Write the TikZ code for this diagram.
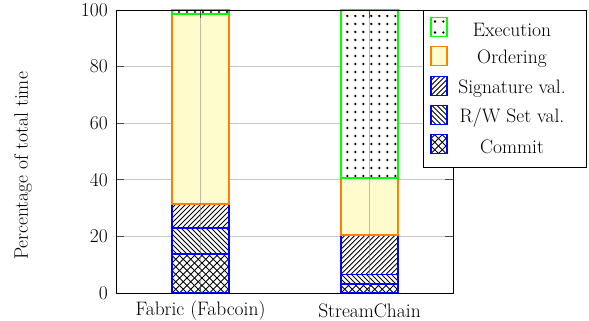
\documentclass[tikz,border=0pt]{standalone}
\definecolor{ordfill}{RGB}{254,251,204}
\tikzset{
  lbl/.style={font=\fontsize{19.5}{22}\selectfont, inner sep=0pt},
  grid/.style={gray!45, line width=0.7pt},
  tick/.style={black!70, line width=0.7pt},
  vgrid/.style={gray, opacity=0.5, line width=0.9pt},
  hl/.style={black, line width=0.8pt},
  exeb/.style={draw=green, line width=1.15pt},
  ordbb/.style={draw=orange, line width=1.15pt},
  blueb/.style={draw=blue, line width=1.15pt},
}
\newcommand{\patNE}[5]{\begin{scope}\clip (#1,#2) rectangle (#3,#4);
  \foreach \k in {-45,...,18}{\draw[hl] ({#1+\k*#5},#2) -- ++(300,300);}\end{scope}}
\newcommand{\patNW}[5]{\begin{scope}\clip (#1,#2) rectangle (#3,#4);
  \foreach \k in {-2,...,60}{\draw[hl] ({#1+\k*#5},#2) -- ++(-300,300);}\end{scope}}
\newcommand{\patDots}[4]{\begin{scope}\clip (#1,#2) rectangle (#3,#4);
  \foreach \i in {0,...,8}{\foreach \j in {0,...,25}{\fill ({#1+5+\i*8},{305-\j*8}) circle (1.3pt);}}\end{scope}}
\newcommand{\edgebox}[5]{\draw[#1] (#2,#3) -- (#4,#3) -- (#4,#5) -- (#2,#5) -- cycle;}
\begin{document}
\begin{tikzpicture}[x=1pt,y=1pt]
\useasboundingbox (0,0) rectangle (589,321);
\foreach \v in {20,40,60,80}{
  \draw[grid] (116,{28+2.83*\v}) -- (453,{28+2.83*\v});
  \draw[tick] (116,{28+2.83*\v}) -- (124,{28+2.83*\v});
  \draw[tick] (453,{28+2.83*\v}) -- (445,{28+2.83*\v});
}
% ---------- Fabric bar (x 172..229) ----------
\fill[white] (172,28) rectangle (229,117);
\fill[ordfill] (172,117) rectangle (229,307);
\fill[white] (172,307) rectangle (229,311);
\patNE{172}{28}{229}{67}{7.5}
\patNW{172}{28}{229}{67}{7.5}
\patNW{172}{67}{229}{93}{5}
\patNE{172}{93}{229}{117}{5}
\begin{scope}\clip (172,307) rectangle (229,311);
  \foreach \i in {0,...,7}{\fill ({179+\i*8},309) circle (1.1pt);}
\end{scope}
\edgebox{blueb}{172}{28}{229}{67}
\edgebox{blueb}{172}{67}{229}{93}
\edgebox{blueb}{172}{93}{229}{117}
\edgebox{ordbb}{172}{117}{229}{307}
\edgebox{exeb}{172}{307}{229}{311}
% ---------- StreamChain bar (x 341..398) ----------
\fill[white] (341,28) rectangle (398,86);
\fill[ordfill] (341,86) rectangle (398,143);
\fill[white] (341,143) rectangle (398,311);
\patNE{341}{28}{398}{37}{7.5}
\patNW{341}{28}{398}{37}{7.5}
\patNW{341}{37}{398}{46.7}{5}
\patNE{341}{46.7}{398}{86}{5}
\patDots{342.3}{143}{398}{311}
\edgebox{blueb}{341}{28}{398}{37}
\edgebox{blueb}{341}{37}{398}{46.7}
\edgebox{blueb}{341}{46.7}{398}{86}
\edgebox{ordbb}{341}{86}{398}{143}
\edgebox{exeb}{341}{143}{398}{311}
\foreach \c in {200.5,369.5}{
  \draw[vgrid] (\c,28) -- (\c,311);
  \draw[tick] (\c,28) -- (\c,36);
  \draw[tick] (\c,311) -- (\c,303);
}
\draw[black, line width=0.9pt] (116,28) rectangle (453,311);
\foreach \v/\n in {0/t0,20/t20,40/t40,60/t60,80/t80,100/t100}{
  \node[lbl, anchor=east] (\n) at (108,{28+2.83*\v}) {\v};
}
\node[lbl] (xf) at (200.5,10) {Fabric (Fabcoin)};
\node[lbl] (xs) at (369.5,10) {StreamChain};
\node[lbl, rotate=90] (yl) at (23,155) {Percentage of total time};
% ---------- legend ----------
\node[draw=black, fill=white, line width=0.9pt, minimum width=163pt, minimum height=157pt, inner sep=0pt, anchor=north east] (leg) at (586.5,311) {};
\fill (435,299.5) circle (1.3pt); \fill (443.3,299.5) circle (1.3pt);
\fill (435,288.5) circle (1.3pt); \fill (443.3,288.5) circle (1.3pt);
\edgebox{exeb}{431}{284.5}{447}{303.5}
\node[lbl] (le) at (512,291) {Execution};
\fill[ordfill] (431,255.5) rectangle (447,274.5);
\edgebox{ordbb}{431}{255.5}{447}{274.5}
\node[lbl] (lo) at (512,262) {Ordering};
\patNE{431}{225.5}{447}{244.5}{5}
\edgebox{blueb}{431}{225.5}{447}{244.5}
\node[lbl] (ls) at (512,232) {Signature val.};
\patNW{431}{196.5}{447}{215.5}{5}
\edgebox{blueb}{431}{196.5}{447}{215.5}
\node[lbl] (lr) at (512,203) {R/W Set val.};
\patNE{431}{167.5}{447}{186.5}{7.5}
\patNW{431}{167.5}{447}{186.5}{7.5}
\edgebox{blueb}{431}{167.5}{447}{186.5}
\node[lbl] (lc) at (512,174) {Commit};
\end{tikzpicture}
\end{document}
